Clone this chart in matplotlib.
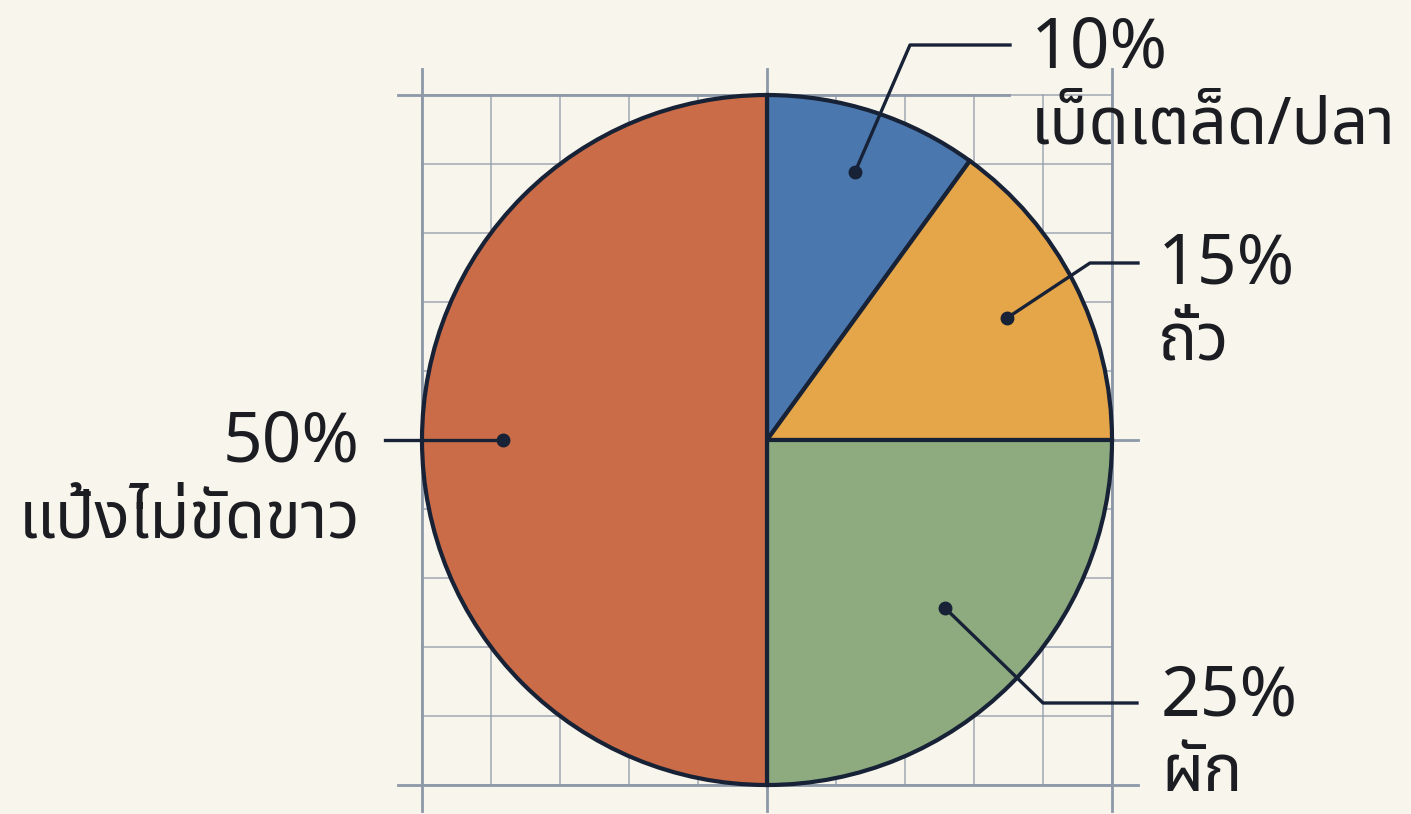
import matplotlib
matplotlib.use("Agg")
import matplotlib.pyplot as plt
from matplotlib import font_manager

# data
labels = ["เบ็ดเตล็ด/ปลา", "ถั่ว", "ผัก", "แป้งไม่ขัดขาว"]
shares = [10, 15, 25, 50]
colors = ["#4a77ad", "#e5a549", "#8dab7f", "#c96c47"]

W, H = 1411, 814
BG = "#f8f5ec"
INK = "#172236"
TXT = "#1b1d22"
GRID = "#8d98a8"

# look for a font that has Thai glyphs
thai_family = None
try:
    from fontTools.ttLib import TTFont
    found = []
    for f in font_manager.fontManager.ttflist:
        try:
            cmap = TTFont(f.fname, fontNumber=0, lazy=True).getBestCmap()
        except Exception:
            continue
        if cmap and 0x0E01 in cmap:
            found.append(f.name)
    for pref in ["Noto Sans Thai", "Noto Sans Thai UI", "Sarabun", "Kanit"]:
        if pref in found:
            thai_family = pref
            break
    if thai_family is None and found:
        thai_family = found[0]
except ImportError:
    pass

families = ["Noto Sans", "DejaVu Sans"]
if thai_family:
    families = [thai_family] + families
plt.rcParams["font.family"] = families

fig = plt.figure(figsize=(W / 100, H / 100), dpi=100)
fig.patch.set_facecolor(BG)
ax = fig.add_axes([0, 0, 1, 1])
ax.set_facecolor(BG)

cx, cy, r = 767, H - 440, 345

# graph-paper grid behind the pie
step = r / 5
for i in range(11):
    x = cx - r + i * step
    y = cy - r + i * step
    ax.plot([x, x], [cy - r, cy + r], color=GRID, lw=1.2, alpha=0.75, zorder=0)
    ax.plot([cx - r, cx + r], [y, y], color=GRID, lw=1.2, alpha=0.75, zorder=0)
for k in (-1, 0, 1):
    ax.plot([cx + k * r] * 2, [cy - r - 26, cy + r + 26], color=GRID, lw=2, zorder=0)
    right = cx + r + 26 if k != 1 else cx + 0.7 * r
    ax.plot([cx - r - 24, right], [cy + k * r] * 2, color=GRID, lw=2, zorder=0)

ax.pie(shares, colors=colors, startangle=90, counterclock=False,
       center=(cx, cy), radius=r,
       wedgeprops=dict(edgecolor=INK, linewidth=3))

# leader lines: dot, elbow, end (pixel coords from the top)
leaders = [
    [(855, 172), (910, 45), (1010, 45)],
    [(1007, 318), (1090, 263), (1138, 263)],
    [(945, 608), (1043, 703), (1137, 703)],
    [(503, 440), (385, 440)],
]
for pts in leaders:
    xs = [p[0] for p in pts]
    ys = [H - p[1] for p in pts]
    ax.plot(xs, ys, color=INK, lw=2.4, zorder=5)
    ax.plot(xs[0], ys[0], "o", color=INK, ms=9, zorder=6)

# label text placement
text_pos = [(1031, 68, "left"), (1158, 283, "left"), (1161, 715, "left"), (360, 461, "right")]
for (x, y, ha), lab, val in zip(text_pos, labels, shares):
    ax.text(x, H - y, f"{val}%", ha=ha, va="baseline", fontsize=50, color=TXT)
    ax.text(x, H - y - 76, lab, ha=ha, va="baseline", fontsize=47, color=TXT)

ax.set_xlim(0, W)
ax.set_ylim(0, H)
ax.set_aspect("auto")
ax.axis("off")

fig.savefig("out.png", dpi=100, facecolor=BG)
